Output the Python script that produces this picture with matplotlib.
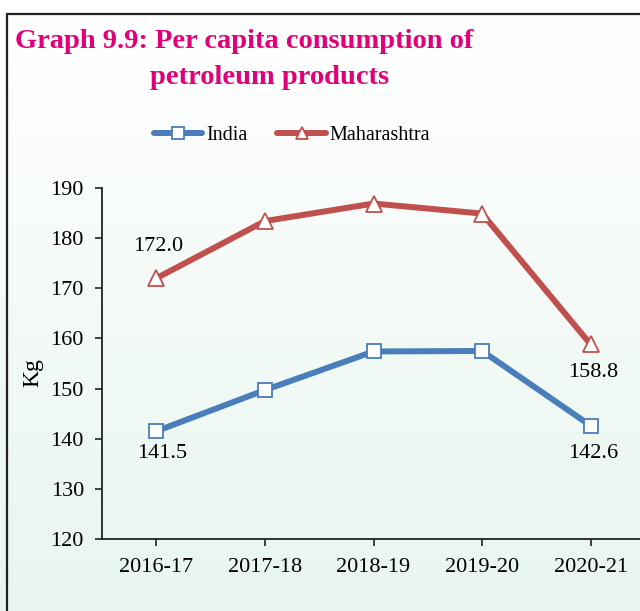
import numpy as np
import matplotlib
matplotlib.use("Agg")
import matplotlib.pyplot as plt
from matplotlib.patches import Rectangle
from matplotlib.lines import Line2D

# data
years = ["2016-17", "2017-18", "2018-19", "2019-20", "2020-21"]
india = [141.5, 149.7, 157.4, 157.5, 142.6]
maharashtra = [172.0, 183.4, 186.9, 184.9, 158.8]

BLUE = "#4a7ebb"
RED = "#c0504d"
PINK = "#e2007a"
SERIF = "Liberation Serif"
FS = 16

fig = plt.figure(figsize=(6.4, 6.11), dpi=100)

# background gradient (white -> pale green), inside the frame only
frame_top = 1 - 14 / 611
bg = fig.add_axes([0, 0, 1, frame_top], zorder=-10)
grad = np.linspace(0, 1, 256).reshape(-1, 1)
top = np.array([1.0, 1.0, 1.0])
bot = np.array([0.91, 0.962, 0.935])
img = top[None, None, :] * (1 - grad[:, :, None]) + bot[None, None, :] * grad[:, :, None]
bg.imshow(img, aspect="auto", extent=[0, 1, 0, 1])
bg.axis("off")

# frame border (cropped on right and bottom)
fig.patches.append(Rectangle((7 / 640, -0.1), 1.2, frame_top + 0.1,
                             transform=fig.transFigure, fill=False,
                             edgecolor="#222222", linewidth=1.6))

# title
fig.text(15 / 640, 1 - 42 / 611, "Graph 9.9: Per capita consumption of",
         color=PINK, fontsize=20.5, fontweight="bold", family=SERIF,
         ha="left", va="center")
fig.text(270 / 640, 1 - 78 / 611, "petroleum products",
         color=PINK, fontsize=20.5, fontweight="bold", family=SERIF,
         ha="center", va="center")

ax = fig.add_axes([102 / 640, 72 / 611, 543 / 640, 351 / 611])
ax.patch.set_alpha(0)
x = np.arange(len(years))

ax.plot(x, india, color=BLUE, lw=4.3, marker="s", ms=9.5,
        mfc="white", mec=BLUE, mew=1.3, solid_joinstyle="round",
        solid_capstyle="round", zorder=3)
ax.plot(x, maharashtra, color=RED, lw=4.3, marker="^", ms=11,
        mfc="white", mec=RED, mew=1.3, solid_joinstyle="round",
        solid_capstyle="round", zorder=3)

# data labels
ax.annotate(f"{maharashtra[0]:.1f}", (x[0], maharashtra[0]), xytext=(1, 23),
            textcoords="offset points", ha="center", va="center",
            fontsize=FS, family=SERIF)
ax.annotate(f"{india[0]:.1f}", (x[0], india[0]), xytext=(4, -16),
            textcoords="offset points", ha="center", va="center",
            fontsize=FS, family=SERIF)
ax.annotate(f"{maharashtra[-1]:.1f}", (x[-1], maharashtra[-1]), xytext=(2, -20),
            textcoords="offset points", ha="center", va="center",
            fontsize=FS, family=SERIF)
ax.annotate(f"{india[-1]:.1f}", (x[-1], india[-1]), xytext=(2, -20),
            textcoords="offset points", ha="center", va="center",
            fontsize=FS, family=SERIF)

ax.set_xlim(-0.5, 4.5)
ax.set_ylim(120, 190)
ax.set_yticks(range(120, 191, 10))
ax.set_xticks(x)
ax.set_xticklabels(years)
for lab in ax.get_xticklabels() + ax.get_yticklabels():
    lab.set_family(SERIF)
    lab.set_fontsize(FS)
ax.tick_params(axis="both", direction="out", length=5, width=1.2, color="#222222")
ax.tick_params(axis="x", pad=9)
ax.tick_params(axis="y", pad=8)
for s in ["top", "right"]:
    ax.spines[s].set_visible(False)
for s in ["left", "bottom"]:
    ax.spines[s].set_linewidth(1.3)
    ax.spines[s].set_color("#222222")
ax.set_ylabel("Kg", family=SERIF, fontsize=17)
ax.yaxis.set_label_coords(-59 / 543, 0.475)

# legend
handles = [
    Line2D([], [], color=BLUE, lw=4.3, marker="s", ms=8.5, mfc="white", mec=BLUE,
           mew=1.3, solid_capstyle="round"),
    Line2D([], [], color=RED, lw=4.3, marker="^", ms=8.5, mfc="white", mec=RED,
           mew=1.3, solid_capstyle="round"),
]
fig.legend(handles, ["India", "Maharashtra"], loc="center",
           bbox_to_anchor=(292 / 640, 1 - 135 / 611), ncol=2, frameon=False,
           prop={"family": SERIF, "size": 14.5}, handlelength=2.4,
           handletextpad=0.2, columnspacing=1.5)

fig.savefig("out.png", dpi=100)
